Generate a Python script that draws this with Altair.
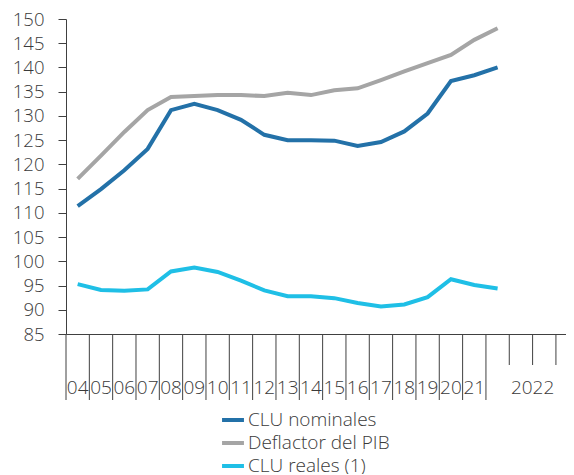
import altair as alt
import pandas as pd

# ---- data ----
cat_labels = ["04", "05", "06", "07", "08", "09", "10", "11", "12", "13", "14",
              "15", "16", "17", "18", "19", "20", "21"]
group_label = "2022"
series_names = ["CLU nominales", "Deflactor del PIB", "CLU reales (1)"]
clu_nominales = [111.4, 114.9, 118.8, 123.2, 131.2, 132.5, 131.2, 129.2, 126.1, 125.0,
                 125.0, 124.9, 123.8, 124.6, 126.8, 130.5, 137.2, 138.4, 140.0]
deflactor_pib = [117.0, 121.8, 126.7, 131.2, 133.9, 134.1, 134.3, 134.3, 134.1, 134.8,
                 134.3, 135.3, 135.7, 137.4, 139.2, 140.9, 142.6, 145.7, 148.1]
clu_reales = [95.3, 94.1, 93.9, 94.2, 97.9, 98.7, 97.8, 96.0, 94.0, 92.8,
              92.8, 92.4, 91.4, 90.7, 91.1, 92.6, 96.3, 95.1, 94.4]
colors = ["#2371A8", "#A5A5A5", "#1FBFE6"]

FONT = "Open Sans"
FW = 300
TXT = "#3a3a3a"
W, H = 500, 315
N_CAT = 21
STEP = 23.33
XMAX = W / STEP

rows = []
for name, vals in zip(series_names, [clu_nominales, deflactor_pib, clu_reales]):
    for i, v in enumerate(vals):
        rows.append({"serie": name, "pos": i + 0.5, "valor": v})
df = pd.DataFrame(rows)

ticks = pd.DataFrame({"pos": list(range(N_CAT + 1))})
ticks["largo"] = ticks["pos"] <= len(cat_labels)

lab = pd.DataFrame({"txt": cat_labels + [group_label],
                    "pos": [i + 0.5 for i in range(len(cat_labels))] + [N_CAT - 1]})

xscale = alt.Scale(domain=[0, XMAX], nice=False, zero=False)

lines = alt.Chart(df).mark_line(strokeWidth=4, strokeJoin="miter").encode(
    x=alt.X("pos:Q", scale=xscale,
            axis=alt.Axis(labels=False, ticks=False, grid=False, title=None,
                          domainColor="#404040", domainWidth=1)),
    y=alt.Y("valor:Q", scale=alt.Scale(domain=[85, 150], nice=False, zero=False),
            axis=alt.Axis(values=list(range(85, 151, 5)), grid=False, title=None,
                          tickSize=8, tickColor="#404040", domainColor="#404040",
                          labelFont=FONT, labelFontSize=18.5, labelFontWeight=FW,
                          labelColor=TXT, labelPadding=14)),
    color=alt.Color("serie:N",
                    scale=alt.Scale(domain=series_names, range=colors),
                    sort=series_names,
                    legend=alt.Legend(title=None, orient="none", legendX=154, legendY=388,
                                      symbolType="stroke", symbolStrokeWidth=4,
                                      symbolSize=480, labelFont=FONT, labelFontSize=19,
                                      labelFontWeight=FW,
                                      labelColor=TXT, labelOffset=2, rowPadding=-0.5,
                                      symbolOffset=0)),
)

long_ticks = alt.Chart(ticks).transform_filter("datum.largo").mark_rule(
    color="#404040", strokeWidth=1).encode(
    x=alt.X("pos:Q", scale=xscale), y=alt.value(H), y2=alt.value(H + 66))
short_ticks = alt.Chart(ticks).transform_filter("!datum.largo").mark_rule(
    color="#404040", strokeWidth=1).encode(
    x=alt.X("pos:Q", scale=xscale), y=alt.value(H), y2=alt.value(H + 31))

labels = alt.Chart(lab).mark_text(font=FONT, fontSize=19, fontWeight=FW, color=TXT,
                                  baseline="middle", align="center").encode(
    x=alt.X("pos:Q", scale=xscale), y=alt.value(H + 54), text="txt:N")

chart = alt.layer(lines, long_ticks, short_ticks, labels).properties(
    width=W, height=H,
    autosize=alt.AutoSizeParams(type="none"),
    padding={"left": 58, "top": 11, "right": 0, "bottom": 140},
).configure_view(stroke=None)

chart.save("out.html", embed_options={"renderer": "svg", "actions": False})
